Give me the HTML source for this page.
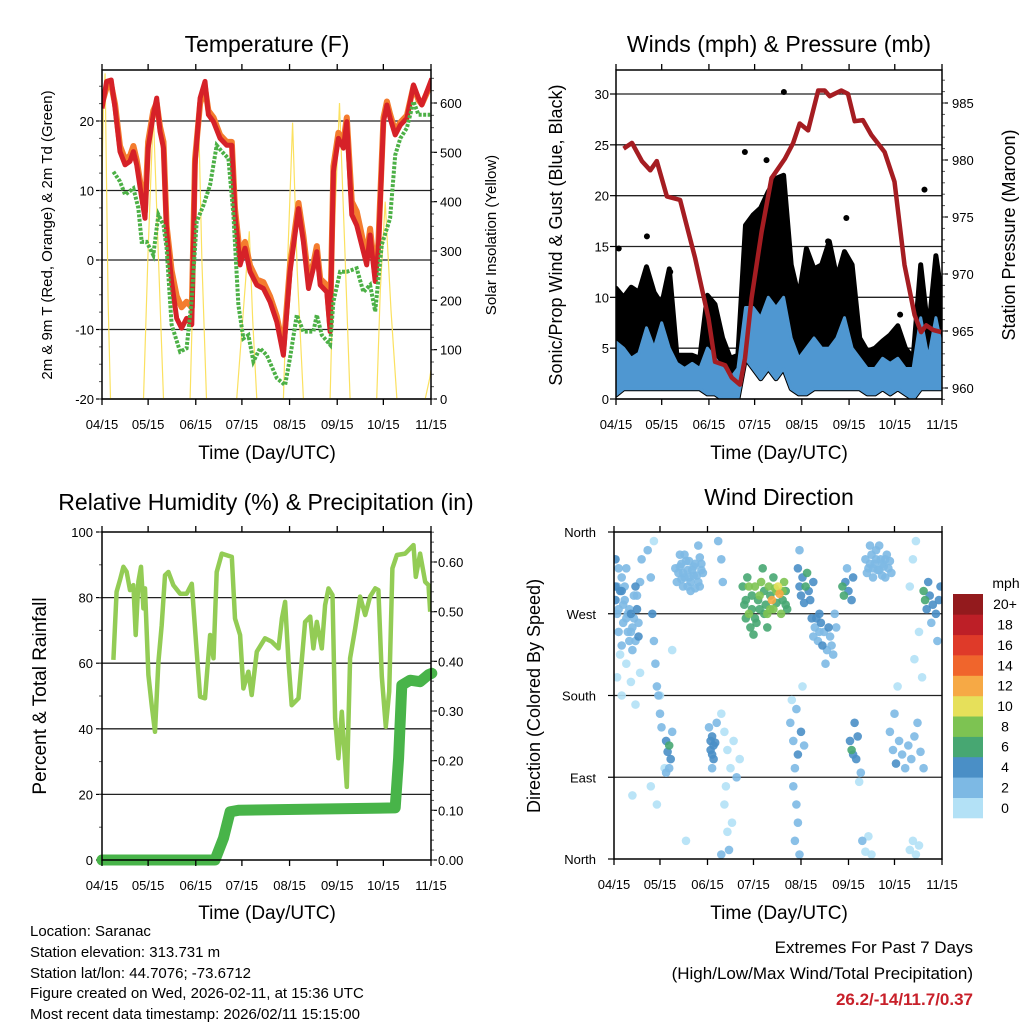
<!DOCTYPE html>
<html><head><meta charset="utf-8">
<style>
html,body{margin:0;padding:0;background:#fff;}
svg{display:block;font-family:"Liberation Sans",Arial,sans-serif;}
</style></head>
<body>
<svg id="chart" width="1024" height="1024" viewBox="0 0 1024 1024" xmlns="http://www.w3.org/2000/svg">
<defs>
<clipPath id="c1"><rect x="102" y="70" width="329" height="329"/></clipPath>
<clipPath id="c2"><rect x="616" y="70" width="326" height="329"/></clipPath>
<clipPath id="c3"><rect x="102" y="532" width="329" height="328"/></clipPath>
<clipPath id="c4"><rect x="614" y="532" width="328" height="327"/></clipPath>
</defs>
<g id="root"></g>
</svg>
<script>
// ---------- DATA ----------
const monthLabels = ["04/15","05/15","06/15","07/15","08/15","09/15","10/15","11/15"];
const monthDays = [0,30,61,91,122,153,183,214];

// Temperature panel (days since 04/15, deg F)
const redDays = [0,3,6,8.5,11.7,15,18.2,20.4,22.6,25.8,28,30,33.4,35.6,37.7,40,42,45.3,48.6,51.8,55,58.4,60.5,63.8,67,69.2,72.5,76.8,81.1,84.4,86.5,89.8,93,96.3,100.7,105,109.3,113.7,118,122.3,127.8,131,134.3,137.5,139.7,141.9,146.2,148.4,150.5,153.8,157,159.2,162.5,165.7,170,172.2,174.4,177.7,179.8,183.1,185.3,187.4,190.7,194,198.3,202.6,205.9,208,211.3,214.5];
const redTemp = [21.8,25.7,25.9,21.8,15.6,13.7,14.2,15.6,13.7,8.9,6,16.1,20.9,23.3,18.5,16.1,4.1,-3.1,-8.4,-9.8,-8.4,-9.3,13.7,23.3,25.7,20.9,19.9,17.5,16.5,16.5,6.5,-0.7,1.7,-1.7,-3.6,-4.1,-6,-8.9,-13.7,-1.7,7.4,2.6,-4.1,-1.2,1.2,-3.6,-4.6,-10.3,12.7,17.5,16.1,19.9,6.5,5,1.2,-0.7,3.6,-3.1,1.7,19.9,22.3,20.4,18,19.4,20.4,25.2,23.3,22.3,24.2,26.1];
const orangeTemp = [22.5,24.8,25.2,22.4,16.4,14.5,15,16.4,14.4,9.8,7,17,21.5,22.6,19.2,17,5,-1.5,-5.2,-6.8,-6,-6.8,14.5,22.5,24.8,21.5,20.5,18,17,17,7.4,0.5,2.6,-0.8,-2.8,-3.2,-5.2,-8.1,-12.8,-0.8,8.2,3.5,-2.8,-0.5,2,-2.7,-3.6,-9.4,13.5,18.3,17,20.5,8.4,7,2.5,0.5,4.5,-2.2,2.6,20.5,22.8,21,18.5,19.8,20.8,25,23,22.4,24,25.7];
const dewDays = [7.4,11.7,15,20.4,23.6,25.8,29,33.4,36.7,40,42,45.3,50.8,55,58.4,61.6,66,70.3,74.6,78,82.2,85.5,88.7,92,95.2,98.5,102.8,107.2,113.7,119.1,122.3,126.7,131,137.5,139.7,143,148.4,150.5,154.9,159.2,165.7,170,174.4,177.7,182,187.4,190.7,194,198.3,202.6,205.9,213.5];
const dewTemp = [12.7,11.3,9.4,10.3,7.5,2.6,2.6,0.7,6.5,5,1.7,-9.3,-13.2,-12.7,-5.5,5.5,7.9,10.8,16.5,15.6,14.6,6.5,-6.5,-11.3,-10.8,-14.6,-12.7,-13.7,-17,-18,-14.1,-7.9,-10.3,-10.3,-7.9,-10.8,-12.2,-6,-1.7,-1.7,-1.2,-4.6,-3.6,-7.4,2.2,6,15.1,17.5,19,22.8,20.9,20.9];
// Solar insolation humps (each: days & W/m2)
const solarDays = [[-1,1,2,4,5.5],[27,30,33.4,37,40],[57.3,60,62.7,65,68],[87.6,92,95.8,98,100.7],[118,121,124,127,131],[148.4,151,154.5,158,161.4],[178.7,181,184.2,188,191.8],[210.2,213,215.6]];
const solarVals = [[300,600,660,200,0],[0,300,580,260,0],[0,320,590,280,0],[0,180,340,160,0],[0,300,560,260,0],[0,330,600,300,0],[0,220,400,180,0],[0,40,90]];

// Winds panel (5-day bins)
const windDays = [0,5,10,15,20,25,30,35,40,45,50,55,60,65,70,75,80,85,90,95,100,105,110,115,120,125,130,135,140,145,150,155,160,165,170,175,180,185,190,195,200,205,210,214];
const gustHi = [10.9,10,11,10.5,13,10.5,9.3,12.8,4.3,4.3,4.3,4,10.2,9.3,6,4,4.3,17.1,18.1,18.8,20.4,21.7,22,13.2,10,14.8,12.8,13.2,15.5,11.9,14.5,13.2,6,4.7,5,5.7,6.3,7.2,5,4,13.2,6.5,14.1,10];
const blueHi = [5.6,5,4,4.5,7,5,7.5,5,3.5,3,3.5,3,5,4,3,2,3,9,9,8,10,9,10,6,4,5,6,5,5,6,8,5,4,3,3,4,3.5,4,3,3,8,4,8,5];
const blueLo = [0.4,1,1,1,1,1,1,1,1,1,1,1,0.5,0.5,0,0,0,4,3,2,3,2,3,1,0.5,0.5,1,1,1,1,1,1,1,0.5,0.5,1,0.5,1,0.5,0,1,1,1,1];
const gustOutDays = [110.2,98.8,84.6,202.5,151.2,139.2,20.3,1.8,35.6,186.5];
const gustOutVals = [30.2,23.5,24.3,20.6,17.8,15.5,16,14.8,12.5,8.3];
const presDays = [5,10.5,17,22.5,26.8,33.4,42.1,51.9,60.7,65,71.6,76,81.4,84.7,89,95.6,102.1,110.8,116.3,120.6,126.1,132.7,137,140.3,147.9,152.3,156.7,162.1,167.6,176.3,182.8,189.4,196,200.3,203.6,208,213.4];
const presVals = [981,981.5,979.9,979.1,979.9,976.8,976.5,971.4,966.1,962.3,962,960.9,960.3,962.6,967.9,973.7,978.4,980.1,981.5,983.2,982.6,986.1,986.1,985.6,986.1,985.8,983.4,983.5,982.2,980.7,978.1,970.8,966.4,964.9,965.5,965.1,964.9];

// RH & rainfall panel
const rhDays = [7.4,9.5,11.7,13.9,16,18.2,20.4,21.9,23.7,25.4,26.9,28,30.2,32.3,34.5,36.7,38.8,41,43.2,46.4,50.8,55.1,58.4,61.6,63.8,67,70.3,72.5,74.6,77.9,84.4,86.5,89.8,92,95.2,97.4,100.7,106,110.4,114.8,117,119.1,121.3,123.4,127.8,132.1,135.4,137.5,139.7,143,145.1,147.3,149.9,151.6,153.8,156,159.2,161.4,164.7,167.9,171.2,174.4,177.7,179.8,182,184.6,186.8,188.9,191.8,197.2,202.6,204.1,206.9,210.2,212.4,213.5];
const rhVals = [61,81.8,85.4,89.4,87.9,82.3,83.8,68.6,84.9,89.4,76.7,82.8,56.4,47.2,39.1,60.4,71.6,86.8,87.8,83.8,81.2,81.2,84.2,63.5,49.8,49.3,68.6,61.5,87.8,93.4,92.4,73.6,68.6,52.3,57.4,50.3,63.5,67.6,66.6,64.5,73.6,78.7,60.4,47.2,49.3,72.6,74.2,64.5,72.6,64.5,77.7,82.8,80.8,43.2,31,45.2,22.3,61.5,70.6,80.3,74.7,80.3,82.8,82.3,56,40.6,51.3,88.9,93,93.4,96,86.3,93.4,84.8,83.8,75.7];
const rainDays = [0,73.5,79,83.3,88.7,190.7,192.9,195,200.4,206.9,212.4,214.5];
const rainVals = [0,0,0.044,0.097,0.1,0.105,0.205,0.352,0.362,0.359,0.373,0.376];

// Wind direction panel (day, direction deg, speed mph)
const dirDays = [2,3,1,4,5,6,7,8,9,10,11,12,13,14,15,16,17,18,3,5,1,2,6,8,10,12,14,16,
 2,5,8,11,14,17,4,
 22,24,25,26,27,28,29,30,31,34,35,36,37,38,36,34,24,28,33,26,38,
 40,42,44,46,48,50,52,54,56,58,45,49,53,57,43,55,
 63,64,65,66,64,62,67,70,72,74,76,78,80,82,72,74,75,77,70,73,68,70,71,
 84,85,86,87,88,89,90,92,94,95,96,98,99,100,101,102,103,104,105,106,107,108,109,110,111,112,113,93,97,91,104,100,
 120,121,122,123,124,125,126,127,128,130,121,
 129,131,133,135,137,139,141,143,145,134,138,136,144,
 115,117,119,120,122,124,118,117,119,120,118,121,116,123,
 149,150,151,153,155,156,152,
 154,155,156,158,159,157,161,160,
 164,166,168,170,172,174,176,178,180,167,173,177,169,181,
 180,182,184,186,188,190,192,194,196,198,200,202,183,185,193,195,197,199,201,196,
 202,203,204,206,208,210,212,213,207,211,205,
 193,195,197,199,162,164,166,168,47,12,30,
 41,43,45,47,49,51,53,55,57,44,48,52,56,46,50,
 165,167,169,171,173,175,177,179,171,175,
 86,88,90,92,95,98,102,106,110,112,
 1,3,5,7,9,11,13,15,
 130,132,134,140,142,
 63,65,64];
const dirVals = [300,320,285,295,310,280,300,265,250,240,270,255,290,300,275,245,305,330,250,235,330,270,260,320,275,230,240,260,
 200,180,215,195,170,205,225,
 340,310,270,240,215,190,180,160,145,130,118,125,110,140,100,95,80,60,100,350,230,
 320,315,325,310,318,305,322,312,300,315,300,328,298,325,335,345,
 120,135,110,128,100,145,150,160,140,120,100,130,90,110,60,30,10,40,5,80,350,330,305,
 300,280,265,310,270,255,290,300,285,275,305,295,280,270,300,290,285,275,298,282,300,292,270,285,305,295,275,260,320,247,310,255,
 320,300,290,310,282,300,315,295,285,305,340,
 265,255,240,260,250,230,245,225,255,270,215,235,270,
 150,130,165,115,140,125,100,80,60,40,20,5,175,190,
 300,290,305,295,285,310,320,
 130,120,115,110,135,150,95,85,
 330,320,335,325,318,330,322,335,328,345,345,310,310,315,
 140,120,105,130,115,100,125,110,135,150,118,100,160,190,300,330,350,250,200,220,
 295,285,275,290,280,270,285,300,260,240,305,
 10,20,5,15,20,8,25,5,20,70,180,
 305,322,315,328,310,318,325,305,318,308,300,312,332,335,295,
 315,325,320,330,318,325,330,320,340,312,
 285,300,275,265,290,270,275,295,295,280,
 300,275,295,285,270,250,265,290,
 245,265,250,255,235,
 130,125,115];
const dirSpeed = [3,2,4,4,2,2,3,2,2,3,4,2,2,4,4,4,3,2,2,2,4,2,3,2,2,2,3,2,
 1,1,1,1,1,1,1,
 3,3,4,2,3,2,3,2,3,4,5,6,4,3,3,2,1,1,1,1,1,
 2,2,2,2,2,2,2,2,2,2,2,2,2,2,2,2,
 4,4,4,4,3,2,3,1,1,1,1,1,2,1,1,1,2,1,2,1,2,2,3,
 6,7,6,7,8,7,6,8,7,6,8,7,6,8,9,7,12,9,8,7,11,13,8,7,9,6,7,7,7,6,6,6,
 4,4,5,4,4,6,6,5,4,4,3,
 4,3,3,4,3,3,3,3,2,4,3,4,2,
 3,3,3,4,4,3,2,2,2,2,2,3,1,1,
 7,6,4,4,4,4,3,
 5,6,4,4,4,4,2,1,
 2,2,2,2,2,2,2,2,2,2,2,2,2,2,
 2,3,4,3,3,3,2,2,2,2,2,2,2,1,1,1,1,1,1,1,
 7,7,5,4,4,4,4,4,3,2,4,
 1,1,1,1,2,1,1,1,1,1,1,
 2,2,2,2,2,2,2,2,2,2,2,2,2,2,2,
 2,2,2,2,2,2,2,2,2,2,
 7,8,7,6,8,7,8,9,8,7,
 4,3,4,3,2,2,3,3,
 3,4,3,4,3,
 4,4,4];
const speedColors = ["#b3e1f6","#7db9e4","#4a8fc6","#47a772","#7dc352","#e6e05a","#f6a945","#f0652c","#df3a29","#bd1f27","#931a1d"];
const speedLabels = ["0","2","4","6","8","10","12","14","16","18","20+"];

// ---------- HELPERS ----------
const NS = "http://www.w3.org/2000/svg";
const root = document.getElementById("root");
function mk(tag, attrs, parent){
  const e = document.createElementNS(NS, tag);
  for (const k in attrs) e.setAttribute(k, attrs[k]);
  (parent||root).appendChild(e);
  return e;
}
function lin(d0,d1,r0,r1){ return v => r0 + (v-d0)*(r1-r0)/(d1-d0); }
function txt(x,y,s,size,anchor,parent,extra){
  const t = mk("text", Object.assign({x:x,y:y,"font-size":size,"text-anchor":anchor||"middle",fill:"#000"}, extra||{}), parent);
  t.textContent = s;
  return t;
}
function path(xs, ys, fx, fy){
  let d = "";
  for (let i=0;i<xs.length;i++) d += (i?"L":"M") + fx(xs[i]).toFixed(1) + "," + fy(ys[i]).toFixed(1);
  return d;
}

function xAxis(g, fx, y0, top){
  for (let i=0;i<monthDays.length;i++){
    const x = fx(monthDays[i]);
    const tk = mk("line",{x1:x,x2:x,y1:y0,y2:y0+6,stroke:"#000","stroke-width":1.3}, g);
    
    
    const tk2 = mk("line",{x1:x,x2:x,y1:top,y2:top-6,stroke:"#000","stroke-width":1.3}, g);
    
    
    const t = txt(x, y0+30, monthLabels[i], 13, "middle", g);
    
    
  }
}
function hTicks(g, fy, vals, labels, xEdge, dir, labelX, anchor, grid, x0, x1, minor){
  for (let i=0;i<vals.length;i++){
    const y = fy(vals[i]);
    const tk = mk("line",{x1:xEdge,x2:xEdge+dir*6,y1:y,y2:y,stroke:"#000","stroke-width":1.2}, g);
    
    
    if (grid){
      const gl = mk("line",{x1:x0,x2:x1,y1:y,y2:y,stroke:"#222","stroke-width":1.3}, g);
      
      
    }
    const t = txt(labelX, y+5, labels[i], 13, anchor, g);
    
    
  }
  if (minor){
    for (const v of minor){
      const y = fy(v);
      const m = mk("line",{x1:xEdge,x2:xEdge+dir*3,y1:y,y2:y,stroke:"#555","stroke-width":1}, g);
      
      
    }
  }
}
function box(g,x,y,w,h){
  const r = mk("rect",{x:x,y:y,width:w,height:h,fill:"none",stroke:"#000","stroke-width":1.5}, g);
  
  
}
function range(a,b,s){ const r=[]; for(let v=a; v<=b+1e-9; v+=s) r.push(+v.toFixed(4)); return r; }

// ---------- PANEL 1: TEMPERATURE ----------
(function(){
  const g = mk("g",{});
  
  
  const fx = lin(0,214,102,431), fy = lin(-20,20,399,121), fs = lin(0,600,399,103);
  hTicks(g, fy, [-20,-10,0,10,20], ["-20","-10","0","10","20"], 102, -1, 94, "end", true, 102, 431, range(-20,27,2.5));
  hTicks(g, fs, [0,100,200,300,400,500,600], ["0","100","200","300","400","500","600"], 431, 1, 440, "start", false, 0, 0, range(0,660,25));
  const pg = mk("g",{"clip-path":"url(#c1)"}, g);
  for (let k=0;k<solarDays.length;k++){
    const p = mk("path",{d:path(solarDays[k], solarVals[k], fx, fs), fill:"none", stroke:"#fbe160","stroke-width":1.2}, pg);
    
    
  }
  const o = mk("path",{d:path(redDays, orangeTemp, fx, fy), fill:"none", stroke:"#f47c2e","stroke-width":6,"stroke-linejoin":"round"}, pg);
  
  
  const r = mk("path",{d:path(redDays, redTemp, fx, fy), fill:"none", stroke:"#d62128","stroke-width":5,"stroke-linejoin":"round"}, pg);
  
  
  const gr = mk("path",{d:path(dewDays, dewTemp, fx, fy), fill:"none", stroke:"#4cb046","stroke-width":4,"stroke-dasharray":"3 1.5"}, pg);
  
  
  box(g,102,70,329,329);
  xAxis(g, fx, 399, 70);
  const t = txt(267,52,"Temperature (F)",23,"middle",g);  
  const xl = txt(267,459,"Time (Day/UTC)",19,"middle",g);  
  const yl = txt(0,0,"2m & 9m T (Red, Orange) & 2m Td (Green)",15,"middle",g,{transform:"translate(52,235) rotate(-90)"});  
  const yr = txt(0,0,"Solar Insolation (Yellow)",15,"middle",g,{transform:"translate(496,235) rotate(-90)"});  
})();

// ---------- PANEL 2: WINDS & PRESSURE ----------
(function(){
  const g = mk("g",{});
  
  
  const fx = lin(0,214,616,942), fy = lin(0,30,399,94), fp = lin(960,985,388,103);
  hTicks(g, fy, [0,5,10,15,20,25,30], ["0","5","10","15","20","25","30"], 616, -1, 609, "end", true, 616, 942, null);
  hTicks(g, fp, [960,965,970,975,980,985], ["960","965","970","975","980","985"], 942, 1, 952, "start", false, 0,0, range(959,987,1));
  const pg = mk("g",{"clip-path":"url(#c2)"}, g);
  let d = "";
  for (let i=0;i<windDays.length;i++) d += (i?"L":"M")+fx(windDays[i]).toFixed(1)+","+fy(gustHi[i]).toFixed(1);
  for (let i=windDays.length-1;i>=0;i--) d += "L"+fx(windDays[i]).toFixed(1)+","+fy(blueLo[i]).toFixed(1);
  const gb = mk("path",{d:d+"Z",fill:"#000",stroke:"#000","stroke-width":5,"stroke-linejoin":"round"}, pg);
  
  
  for (let i=0;i<gustOutDays.length;i++){
    const c = mk("circle",{cx:fx(gustOutDays[i]),cy:fy(gustOutVals[i]),r:3,fill:"#000"}, pg);
    
    
  }
  d = "";
  for (let i=0;i<windDays.length;i++) d += (i?"L":"M")+fx(windDays[i]).toFixed(1)+","+fy(blueHi[i]).toFixed(1);
  for (let i=windDays.length-1;i>=0;i--) d += "L"+fx(windDays[i]).toFixed(1)+","+fy(blueLo[i]).toFixed(1);
  const bb = mk("path",{d:d+"Z",fill:"#4f97d1",stroke:"#4f97d1","stroke-width":3,"stroke-linejoin":"round"}, pg);
  
  
  const pr = mk("path",{d:path(presDays, presVals, fx, fp), fill:"none", stroke:"#a51d22","stroke-width":4.5,"stroke-linejoin":"round"}, pg);
  
  
  box(g,616,70,326,329);
  xAxis(g, fx, 399, 70);
  const t = txt(779,52,"Winds (mph) & Pressure (mb)",23,"middle",g);  
  const xl = txt(779,459,"Time (Day/UTC)",19,"middle",g);  
  const yl = txt(0,0,"Sonic/Prop Wind & Gust (Blue, Black)",18,"middle",g,{transform:"translate(562,235) rotate(-90)"});  
  const yr = txt(0,0,"Station Pressure (Maroon)",18,"middle",g,{transform:"translate(1015,235) rotate(-90)"});  
})();

// ---------- PANEL 3: RH & PRECIP ----------
(function(){
  const g = mk("g",{});
  
  
  const fx = lin(0,214,102,431), fy = lin(0,100,860,532), fr = lin(0,0.6,860,562);
  hTicks(g, fy, [0,20,40,60,80,100], ["0","20","40","60","80","100"], 102, -1, 93, "end", false, 0,0, range(0,100,10));
  [20,40,60,80].forEach(v=>{ const gl = mk("line",{x1:102,x2:431,y1:fy(v),y2:fy(v),stroke:"#222","stroke-width":1.3}, g);   });
  hTicks(g, fr, [0,0.1,0.2,0.3,0.4,0.5,0.6], ["0.00","0.10","0.20","0.30","0.40","0.50","0.60"], 431, 1, 438, "start", false, 0,0, range(0,0.66,0.02));
  const pg = mk("g",{"clip-path":"url(#c3)"}, g);
  const rh = mk("path",{d:path(rhDays, rhVals, fx, fy), fill:"none", stroke:"#93cc55","stroke-width":4.5,"stroke-linejoin":"round"}, pg);
  
  
  const rn = mk("path",{d:path(rainDays, rainVals, fx, fr), fill:"none", stroke:"#48b449","stroke-width":11,"stroke-linejoin":"round","stroke-linecap":"round"}, g);
  
  
  box(g,102,532,329,328);
  xAxis(g, fx, 860, 532);
  const t = txt(266,510,"Relative Humidity (%) & Precipitation (in)",23,"middle",g);  
  const xl = txt(267,919,"Time (Day/UTC)",19,"middle",g);  
  const yl = txt(0,0,"Percent & Total Rainfall",19,"middle",g,{transform:"translate(46,696) rotate(-90)"});  
})();

// ---------- PANEL 4: WIND DIRECTION ----------
(function(){
  const g = mk("g",{});
  
  
  const fx = lin(0,214,614,942), fy = lin(0,360,859,532);
  hTicks(g, fy, [0,90,180,270,360], ["North","East","South","West","North"], 614, -1, 596, "end", false, 0,0, null);
  [90,180,270].forEach(v=>{ const gl = mk("line",{x1:614,x2:942,y1:fy(v),y2:fy(v),stroke:"#222","stroke-width":1.3}, g);   });
  const pg = mk("g",{"clip-path":"url(#c4)"}, g);
  const order = dirSpeed.map((s,i)=>i).sort((a,b)=>dirSpeed[a]-dirSpeed[b]);
  for (const i of order){
    const bin = Math.min(10, Math.floor(dirSpeed[i]/2));
    const c = mk("circle",{cx:fx(dirDays[i]).toFixed(1),cy:fy(dirVals[i]).toFixed(1),r:4.3,fill:speedColors[bin],"fill-opacity":0.9}, pg);
    
    
  }
  box(g,614,532,328,327);
  xAxis(g, fx, 859, 532);
  const h = 224/11;
  for (let i=0;i<11;i++){
    const y = 818 - (i+1)*h;
    const r = mk("rect",{x:953,y:y.toFixed(1),width:30,height:(h+0.3).toFixed(1),fill:speedColors[i]}, g);
    
    
    const t = txt(1005, y+h/2+5, speedLabels[i], 14, "middle", g);
    
    
  }
  const mph = txt(1006,588,"mph",14,"middle",g);  
  const t = txt(779,505,"Wind Direction",23,"middle",g);  
  const xl = txt(779,919,"Time (Day/UTC)",19,"middle",g);  
  const yl = txt(0,0,"Direction (Colored By Speed)",18,"middle",g,{transform:"translate(540,696) rotate(-90)"});  
})();
</script>
<div style="position:absolute;left:0;top:0;width:1024px;height:1024px;pointer-events:none;font-family:'Liberation Sans',Arial,sans-serif;">
  <div style="position:absolute;left:30px;top:922px;font-size:15px;line-height:20.8px;color:#000;">
    <div>Location: Saranac</div>
    <div>Station elevation: 313.731 m</div>
    <div>Station lat/lon: 44.7076; -73.6712</div>
    <div>Figure created on Wed, 2026-02-11, at 15:36 UTC</div>
    <div>Most recent data timestamp: 2026/02/11 15:15:00</div>
  </div>
  <div style="position:absolute;right:51px;top:935px;text-align:right;font-size:17px;line-height:26px;color:#000;">
    <div>Extremes For Past 7 Days</div>
    <div>(High/Low/Max Wind/Total Precipitation)</div>
    <div style="color:#c8202a;font-weight:bold;">26.2/-14/11.7/0.37</div>
  </div>
</div>
</body></html>
